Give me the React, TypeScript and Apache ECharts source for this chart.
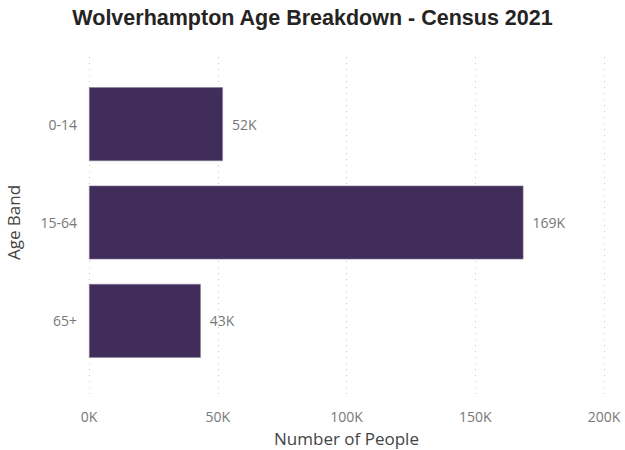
import React, { useEffect, useRef } from "react";
import * as echarts from "echarts";

const categories = ["0-14", "15-64", "65+"];
const values = [52000, 168700, 43400];
const xTicks = [0, 50000, 100000, 150000, 200000];

const fmtK = (v: number) => `${Math.round(v / 1000)}K`;

export default function App() {
  const ref = useRef<HTMLDivElement>(null);
  useEffect(() => {
    if (!ref.current) return;
    const chart = echarts.init(ref.current, undefined, { renderer: "svg" });
    const font = "Open Sans";
    chart.setOption({
      animation: false,
      title: {
        text: "Wolverhampton Age Breakdown - Census 2021",
        left: "center",
        top: 7,
        padding: 0,
        textStyle: {
          fontFamily: "Liberation Sans",
          fontWeight: "bold",
          fontSize: 21.5,
          color: "#252423",
        },
      },
      grid: [
        { left: 89, right: 21, top: 75, bottom: 80, outerBoundsMode: "none", containLabel: false },
        { left: 89, right: 21, top: 57, bottom: 55, outerBoundsMode: "none", containLabel: false },
      ],
      xAxis: [
        {
          type: "value",
          gridIndex: 0,
          min: xTicks[0],
          max: xTicks[xTicks.length - 1],
          interval: 50000,
          axisLine: { show: false },
          axisTick: { show: false },
          splitLine: { show: false },
          axisLabel: { show: false },
        },
        {
          type: "value",
          gridIndex: 1,
          min: xTicks[0],
          max: xTicks[xTicks.length - 1],
          interval: 50000,
          axisLine: { show: false },
          axisTick: { show: false },
          splitLine: {
            show: true,
            lineStyle: { type: [1, 5], color: "#c8c8c8", width: 1 },
          },
          axisLabel: {
            show: true,
            margin: 14,
            formatter: (v: number) => fmtK(v),
            fontFamily: font,
            fontSize: 14,
            color: "#777",
          },
          name: "Number of People",
          nameLocation: "middle",
          nameGap: 35,
          nameTextStyle: { fontFamily: font, fontSize: 17, color: "#444" },
        },
      ],
      yAxis: [
        {
          type: "category",
          gridIndex: 0,
          data: categories,
          inverse: true,
          axisLine: { show: false },
          axisTick: { show: false },
          axisLabel: {
            margin: 12,
            fontFamily: font,
            fontSize: 14,
            color: "#777",
          },
          name: "Age Band",
          nameLocation: "middle",
          nameGap: 67,
          nameTextStyle: { fontFamily: font, fontSize: 17, color: "#444" },
        },
        {
          type: "value",
          gridIndex: 1,
          show: false,
          splitLine: { show: false },
        },
      ],
      series: [
        {
          type: "bar",
          xAxisIndex: 0,
          yAxisIndex: 0,
          data: values,
          barCategoryGap: "25%",
          itemStyle: {
            color: "#402D5A",
            borderColor: "#8a7d9a",
            borderWidth: 0.6,
          },
          label: {
            show: true,
            position: "right",
            distance: 9,
            formatter: (p: any) => fmtK(p.value),
            fontFamily: font,
            fontSize: 14,
            color: "#777",
          },
        },
      ],
    });
    return () => chart.dispose();
  }, []);
  return (
    <div
      ref={ref}
      style={{ position: "fixed", left: 0, top: 0, width: 625, height: 450, background: "#fff" }}
    />
  );
}
